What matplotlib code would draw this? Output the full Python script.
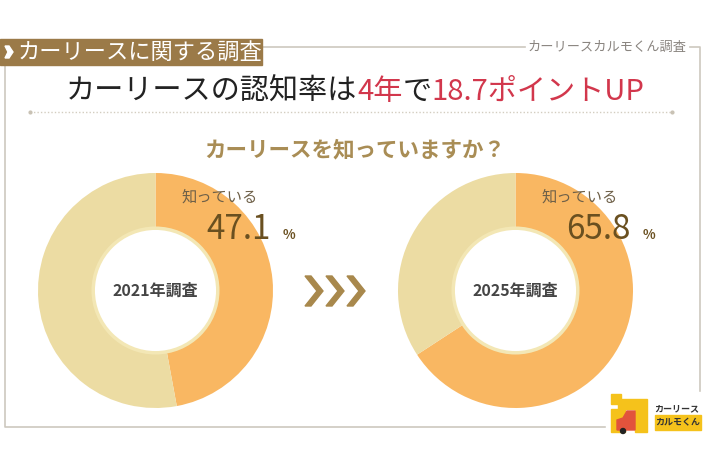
import matplotlib
matplotlib.use('Agg')
import matplotlib.pyplot as plt
from matplotlib.patches import Rectangle, Circle, Polygon

plt.rcParams['font.family'] = ['Noto Sans CJK JP', 'DejaVu Sans']

# データ
survey_labels = ['2021年調査', '2025年調査']
aware_pct = [47.1, 65.8]
aware_label = '知っている'

title = 'カーリースの認知率は4年で18.7ポイントUP'
question = 'カーリースを知っていますか？'
tag_text = 'カーリースに関する調査'
source_text = 'カーリースカルモくん調査'

# 色
c_aware = '#f9b762'
c_other = '#ecdca3'
c_brown = '#9b7a48'
c_red = '#d2374c'

W, H = 710, 474
fig = plt.figure(figsize=(W / 100, H / 100), dpi=100)
fig.patch.set_facecolor('white')


def pixel_axes(z):
    a = fig.add_axes([0, 0, 1, 1], zorder=z)
    a.set_xlim(0, W)
    a.set_ylim(H, 0)
    a.axis('off')
    a.patch.set_alpha(0)
    return a


bg = pixel_axes(0)
top = pixel_axes(5)

# 枠線
line_c = '#cdc8bf'
bg.plot([262, 525], [47, 47], color=line_c, lw=1.2)
bg.plot([690, 700, 700, 5, 5], [47, 47, 427, 427, 65], color=line_c, lw=1.2)
bg.text(607, 47, source_text, ha='center', va='center', fontsize=9.5, color='#8a8580')

# 見出しタグ
bg.add_patch(Rectangle((0, 39), 262, 26, color=c_brown, zorder=2))
bg.add_patch(Polygon([(5, 46), (9, 46), (13, 52), (9, 58), (5, 58), (8, 52)],
                     closed=True, color='white', zorder=3))
bg.text(18, 52, tag_text, ha='left', va='center', fontsize=16, color='white', zorder=3)

# タイトル（黒と赤）
parts = [('カーリースの認知率は', '#222222'), ('4年', c_red), ('で', '#222222'),
         ('18.7ポイントUP', c_red)]
fig.canvas.draw()
r = fig.canvas.get_renderer()
widths = []
txts = []
for s, col in parts:
    t = bg.text(0, 92, s, ha='left', va='center', fontsize=21, color=col)
    widths.append(t.get_window_extent(r).width)
    txts.append(t)
x = W / 2 - sum(widths) / 2
for t, w in zip(txts, widths):
    t.set_x(x)
    x += w

bg.plot([30, 672], [112, 112], color='#d3cdc0', lw=1, ls=(0, (1, 1.5)))
bg.plot([30, 672], [112, 112], ls='none', marker='o', ms=2, color='#c9c2b4')

bg.text(W / 2, 150, question, ha='center', va='center', fontsize=15.5,
        fontweight='bold', color='#a98d55')

# ドーナツ
centers = [(155.5, 290.5), (515.5, 290.5)]
R = 117.5
for (cx, cy), pct, lab in zip(centers, aware_pct, survey_labels):
    ax = fig.add_axes([(cx - R) / W, 1 - (cy + R) / H, 2 * R / W, 2 * R / H], zorder=2)
    ax.pie([pct, 100 - pct], colors=[c_aware, c_other], startangle=90,
           counterclock=False, radius=1.0,
           wedgeprops=dict(width=0.47, linewidth=0))
    ax.add_patch(Circle((0, 0), 0.53, facecolor='white', edgecolor='#f3e7b5', lw=2.5))
    ax.set_xlim(-1, 1)
    ax.set_ylim(-1, 1)
    ax.axis('off')
    ax.text(0, 0, lab, ha='center', va='center', fontsize=11.5, fontweight='bold',
            color='#454545')

    top.text(cx + 26, cy - 93, aware_label, ha='left', va='center', fontsize=11,
             color='#6e6048')
    top.text(cx + 51, cy - 61, f'{pct:.1f}', ha='left', va='center', fontsize=24,
             color='#6a5020')
    top.text(cx + 127, cy - 56, '%', ha='left', va='center', fontsize=9.5,
             fontweight='bold', color='#6a5020')

# 矢印
for i in range(3):
    x0 = 305 + i * 21
    bg.add_patch(Polygon([(x0, 276), (x0 + 6, 276), (x0 + 18, 291), (x0 + 6, 306),
                          (x0, 306), (x0 + 12, 291)], closed=True, color='#a8884c'))

# ロゴ
top.add_patch(Rectangle((606, 392), 98, 42, color='white'))
top.add_patch(Polygon([(611, 394), (621, 394), (621, 399), (647, 399), (647, 432),
                       (635, 432), (635, 409), (625, 409), (625, 432), (611, 432),
                       (611, 409), (618, 409), (618, 404), (611, 404)],
                      closed=True, color='#f5c21b'))
top.add_patch(Polygon([(617, 430), (617, 420), (623, 418), (627, 411), (635, 411),
                       (635, 430)], closed=True, color='#e2533c'))
top.add_patch(Circle((623, 431), 2.5, color='#222222'))
top.text(677, 409, 'カーリース', ha='center', va='center', fontsize=6.5,
         fontweight='bold', color='#333333')
top.add_patch(Rectangle((655, 415), 46, 15, color='#f5c21b'))
top.text(678, 422.5, 'カルモくん', ha='center', va='center', fontsize=6.5,
         fontweight='bold', color='#333333')

fig.savefig('out.png', dpi=100)
